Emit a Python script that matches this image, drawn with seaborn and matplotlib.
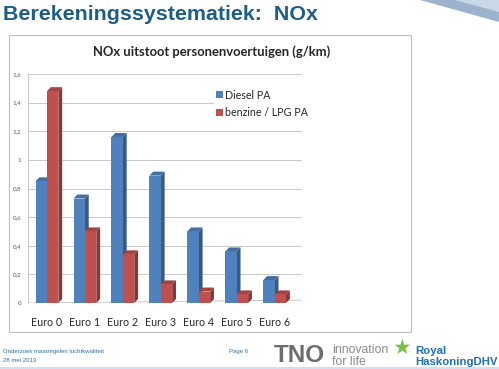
import numpy as np
import pandas as pd
import seaborn as sns
import matplotlib.pyplot as plt
from matplotlib.patches import Polygon, Rectangle
from matplotlib.colors import to_rgb

# data
categories = ['Euro 0', 'Euro 1', 'Euro 2', 'Euro 3', 'Euro 4', 'Euro 5', 'Euro 6']
diesel = [0.85, 0.73, 1.16, 0.89, 0.50, 0.36, 0.16]
benzine = [1.48, 0.50, 0.34, 0.13, 0.08, 0.06, 0.06]
series_names = ['Diesel PA', 'benzine / LPG PA']
y_ticks = [0, 0.2, 0.4, 0.6, 0.8, 1.0, 1.2, 1.4, 1.6]
y_ticklabels = ['0', '0,2', '0,4', '0,6', '0,8', '1', '1,2', '1,4', '1,6']

df = pd.DataFrame({
    'klasse': categories * 2,
    'nox': diesel + benzine,
    'type': [series_names[0]] * len(categories) + [series_names[1]] * len(categories),
})

sns.set_style('white')
plt.rcParams['font.family'] = ['Lato', 'DejaVu Sans']

W, H = 499, 369
fig = plt.figure(figsize=(W / 100, H / 100), dpi=100)

def fx(px):
    return px / W

def fy(py):
    return 1 - py / H

# slide frame / decoration
fig.add_artist(Polygon([(fx(420), fy(0)), (fx(499), fy(0)), (fx(499), fy(22))],
                       closed=True, transform=fig.transFigure, color='#9bb3cc', lw=0))
fig.add_artist(Polygon([(fx(455), fy(0)), (fx(499), fy(0)), (fx(499), fy(12))],
                       closed=True, transform=fig.transFigure, color='#c9d8e6', lw=0))
fig.add_artist(Rectangle((fx(9), fy(332)), fx(402), fy(35) - fy(332), transform=fig.transFigure,
                         fill=False, ec='#bfbfbf', lw=0.8))

fig.text(fx(3), fy(15), 'Berekeningssystematiek:  NOx', family='Liberation Sans',
         weight='bold', size=15.4, color='#1d5d8a', va='center', ha='left')

# chart
ax = fig.add_axes([fx(28), fy(303), fx(274), fy(74) - fy(303)])
palette = {series_names[0]: '#4f81bd', series_names[1]: '#c0504d'}
sns.barplot(data=df, x='klasse', y='nox', hue='type', palette=palette, width=0.6,
            saturation=1, ax=ax, zorder=3, linewidth=0)

ax.set_xlim(-0.5, 6.72)
ax.set_ylim(0, 1.6)
ax.set_yticks(y_ticks)
ax.set_yticklabels(y_ticklabels)
ax.tick_params(axis='y', length=0, pad=5, labelsize=4.5, labelcolor='#595959')
ax.tick_params(axis='x', length=0, pad=10, labelsize=7.7, labelcolor='#262626')
ax.set_xlabel('')
ax.set_ylabel('')
for s in ['top', 'right', 'bottom']:
    ax.spines[s].set_visible(False)
ax.spines['left'].set_color('#bfbfbf')
ax.spines['left'].set_linewidth(0.6)
for t in y_ticks[1:]:
    ax.axhline(t, color='#bfbfbf', lw=0.6, zorder=1)
ax.plot([-0.5, 6.72], [0, 0.02], color='#bfbfbf', lw=0.6, zorder=1)

# pseudo 3d: side and top faces derived from the seaborn bars
dx, dy = 0.1, 0.028
for i, bar in enumerate(ax.patches):
    if bar.get_height() <= 0:
        continue
    x0, w, h = bar.get_x(), bar.get_width(), bar.get_height()
    r, g, b = to_rgb(bar.get_facecolor())
    front_z = 3.0 if i < len(categories) else 3.2
    bar.set_zorder(front_z)
    side = Polygon([(x0 + w, 0), (x0 + w + dx, dy), (x0 + w + dx, h + dy), (x0 + w, h)],
                   closed=True, color=(r * 0.7, g * 0.7, b * 0.7), lw=0, zorder=front_z - 0.1)
    top = Polygon([(x0, h), (x0 + dx, h + dy), (x0 + w + dx, h + dy), (x0 + w, h)],
                  closed=True, color=(r * 0.85, g * 0.85, b * 0.85), lw=0, zorder=front_z - 0.05)
    ax.add_patch(side)
    ax.add_patch(top)

ax.set_title('NOx uitstoot personenvoertuigen (g/km)', fontsize=9.4, weight='bold',
             color='#262626', x=0.67, pad=13)

leg = ax.legend(loc='upper left', bbox_to_anchor=(0.66, 0.965), frameon=True, fontsize=7.7,
                handlelength=0.6, handleheight=0.6, handletextpad=0.25, labelspacing=0.6,
                borderpad=0.2)
leg.get_frame().set_edgecolor('none')
leg.get_frame().set_facecolor('white')
leg.get_frame().set_alpha(1)
for t in leg.get_texts():
    t.set_color('#262626')

# footer
fig.text(fx(3), fy(352), 'Onderzoek maatregelen luchtkwaliteit', family='Liberation Sans',
         size=4.3, color='#2a6fa8', va='center')
fig.text(fx(3), fy(361), '28 mei 2013', family='Liberation Sans', size=4.3,
         color='#2a6fa8', va='center')
fig.text(fx(229), fy(352), 'Page 6', family='Liberation Sans', size=4.3,
         color='#2a6fa8', va='center')
fig.text(fx(274), fy(355), 'TNO', family='Liberation Sans', weight='bold', size=17.5,
         color='#6d6d6d', va='center')
fig.text(fx(332), fy(350), 'innovation', family='Liberation Sans', size=8.8,
         color='#8a8a8a', va='center')
fig.text(fx(332), fy(362), 'for life', family='Liberation Sans', size=8.8,
         color='#8a8a8a', va='center')
fig.text(fx(393), fy(348), '★', size=15, color='#7cc242', va='center', ha='left')
fig.text(fx(415), fy(351), 'Royal', family='Liberation Sans', weight='bold', size=8.2,
         color='#1f6db3', va='center')
fig.text(fx(415), fy(362), 'HaskoningDHV', family='Liberation Sans', weight='bold', size=8.2,
         color='#1f6db3', va='center')
fig.add_artist(Rectangle((0, 0), 1, fy(367), transform=fig.transFigure, color='#cfe0f0', lw=0))

fig.savefig('out.png', dpi=100)
